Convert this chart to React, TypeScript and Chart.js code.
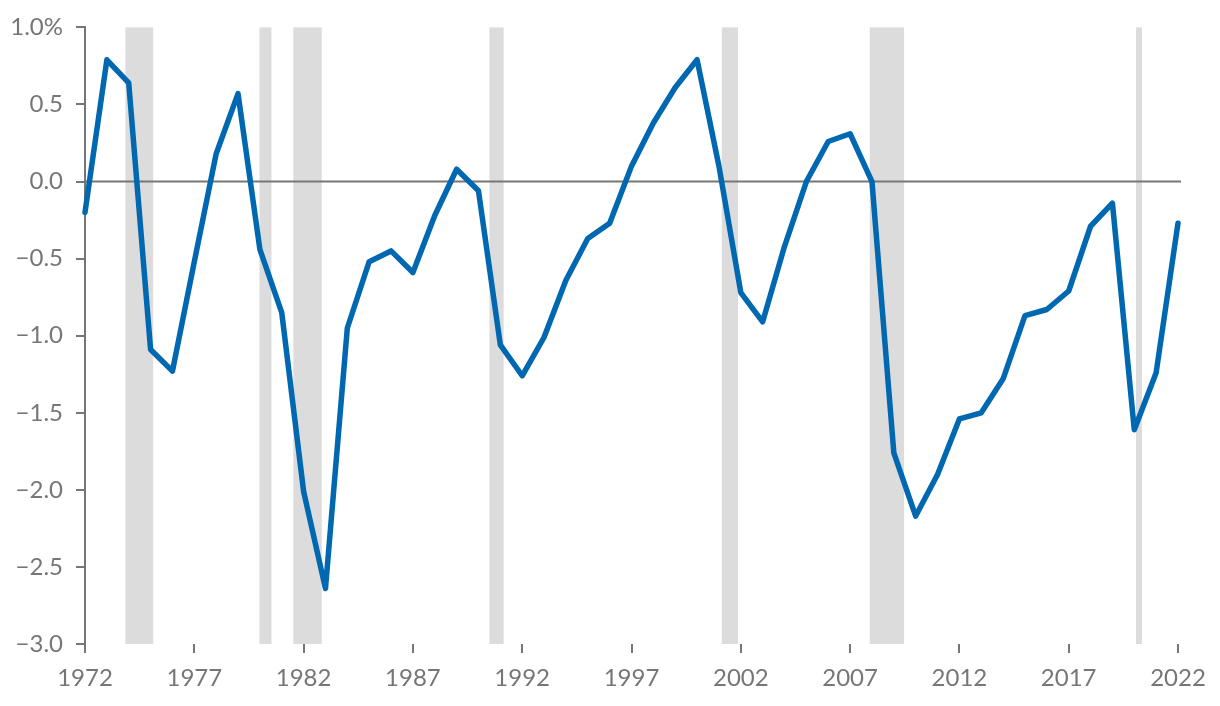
import React, { useEffect, useRef } from "react";
import { Chart, registerables } from "chart.js";

Chart.register(...registerables);

const years: number[] = [];
for (let y = 1972; y <= 2022; y++) years.push(y);

const values: number[] = [
  -0.20, 0.79, 0.64, -1.09, -1.23, -0.52, 0.18, 0.57, -0.44, -0.85,
  -2.01, -2.64, -0.95, -0.52, -0.45, -0.59, -0.22, 0.08, -0.06, -1.06,
  -1.26, -1.01, -0.64, -0.37, -0.27, 0.10, 0.38, 0.61, 0.79, 0.10,
  -0.72, -0.91, -0.42, 0.00, 0.26, 0.31, 0.00, -1.76, -2.17, -1.90,
  -1.54, -1.50, -1.28, -0.87, -0.83, -0.71, -0.29, -0.14, -1.61, -1.24,
  -0.27,
];

const recessionStarts: number[] = [1973.85, 1979.98, 1981.53, 1990.5, 2001.13, 2007.9, 2020.08];
const recessionEnds: number[] = [1975.12, 1980.53, 1982.83, 1991.15, 2001.87, 2009.47, 2020.35];

const yTicks: number[] = [-3.0, -2.5, -2.0, -1.5, -1.0, -0.5, 0.0, 0.5, 1.0];

const GRAY = "#767676";
const BLUE = "#0067B1";

const bandsPlugin = {
  id: "bands",
  beforeDatasetsDraw(chart: any) {
    const { ctx, chartArea, scales } = chart;
    const x = scales.x;
    const y = scales.y;
    ctx.save();
    ctx.fillStyle = "#DCDCDC";
    for (let i = 0; i < recessionStarts.length; i++) {
      const x0 = x.getPixelForValue(recessionStarts[i]);
      const x1 = x.getPixelForValue(recessionEnds[i]);
      ctx.fillRect(x0, chartArea.top, x1 - x0, chartArea.bottom - chartArea.top);
    }
    const yz = y.getPixelForValue(0);
    ctx.strokeStyle = GRAY;
    ctx.lineWidth = 2;
    ctx.beginPath();
    ctx.moveTo(chartArea.left, yz);
    ctx.lineTo(chartArea.right + 3, yz);
    ctx.stroke();
    ctx.restore();
  },
};

function fmtY(v: number): string {
  const s = Math.abs(v).toFixed(1);
  const sign = v < -1e-9 ? "\u2212" : "";
  return v === 1 ? s + "%" : sign + s;
}

export default function App() {
  const ref = useRef<HTMLCanvasElement | null>(null);
  useEffect(() => {
    if (!ref.current) return;
    const chart = new Chart(ref.current, {
      type: "line",
      data: {
        datasets: [
          {
            data: years.map((yr, i) => ({ x: yr, y: values[i] })),
            borderColor: BLUE,
            borderWidth: 5.5,
            pointRadius: 0,
            tension: 0,
            borderJoinStyle: "round",
            borderCapStyle: "round",
            fill: false,
            clip: false,
          },
        ],
      },
      options: {
        animation: false,
        responsive: false,
        maintainAspectRatio: false,
        layout: { padding: { top: 26, right: 42, left: 0, bottom: 0 } },
        plugins: { legend: { display: false }, tooltip: { enabled: false } },
        scales: {
          x: {
            type: "linear",
            min: 1972,
            max: 2022,
            afterBuildTicks: (s: any) => {
              const t = [];
              for (let v = 1972; v <= 2022; v += 5) t.push({ value: v });
              s.ticks = t;
            },
            afterFit: (s: any) => {
              s.height = 62;
            },
            border: { display: false },
            grid: {
              drawOnChartArea: false,
              drawTicks: true,
              tickLength: 9,
              color: GRAY,
              lineWidth: 2,
            },
            ticks: {
              color: GRAY,
              font: { family: "Lato", size: 24 },
              padding: 11,
              maxRotation: 0,
              autoSkip: false,
              callback: (v: any) => String(v),
            },
          },
          y: {
            type: "linear",
            min: -3,
            max: 1,
            afterBuildTicks: (s: any) => {
              s.ticks = yTicks.map((v) => ({ value: v }));
            },
            afterFit: (s: any) => {
              s.width = 85;
            },
            border: { display: true, color: GRAY, width: 2 },
            grid: {
              drawOnChartArea: false,
              drawTicks: true,
              tickLength: 9,
              color: GRAY,
              lineWidth: 2,
            },
            ticks: {
              color: GRAY,
              font: { family: "Lato", size: 24 },
              padding: 13,
              autoSkip: false,
              callback: (v: any) => fmtY(Number(v)),
            },
          },
        },
      },
      plugins: [bandsPlugin],
    } as any);
    return () => chart.destroy();
  }, []);
  return (
    <div style={{ position: "absolute", left: 0, top: 0, width: 1220, height: 706, background: "#fff" }}>
      <canvas ref={ref} width={1220} height={706} style={{ width: 1220, height: 706, display: "block" }} />
    </div>
  );
}
